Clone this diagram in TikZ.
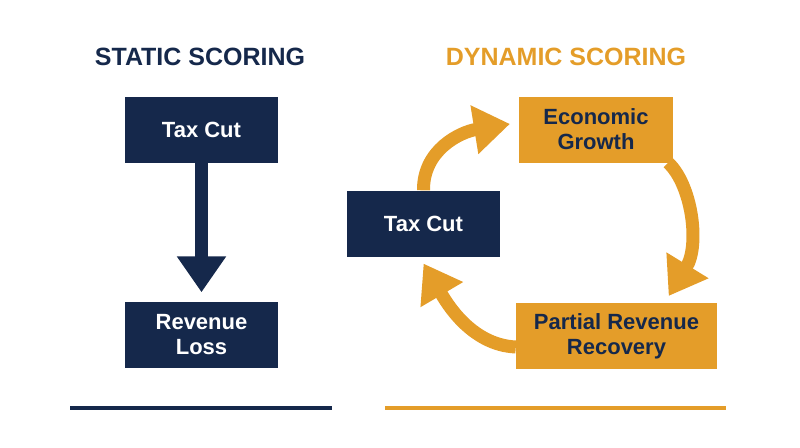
\documentclass[tikz,border=0pt]{standalone}
\usepackage{fontspec}
\setmainfont{Liberation Sans}
\usetikzlibrary{arrows.meta}
\definecolor{navy}{RGB}{21,40,75}
\definecolor{gold}{RGB}{228,157,41}

\begin{document}
\begin{tikzpicture}[
        x=1pt, y=-1pt,
        every node/.style={font=\bfseries\fontsize{22}{25}\selectfont,
                align=center, inner sep=0pt},
        navybox/.style={fill=navy, text=white, minimum width=153pt, minimum height=66pt},
        goldbox/.style={fill=gold, text=navy, minimum height=66pt},
        heading/.style={font=\bfseries\fontsize{25}{29}\selectfont},
        flow/.style={line width=13pt, -{Triangle[width=47pt,length=36pt]}}
    ]
    \useasboundingbox (0,0) rectangle (800,447);

    \node[heading, text=navy] (statictitle) at (200,57) {STATIC SCORING};
    \node[heading, text=gold] (dynamictitle) at (566,57) {DYNAMIC SCORING};

    \node[navybox] (taxL) at (201.5,130) {Tax Cut};
    \node[navybox] (revL) at (201.5,334.5) {Revenue\\Loss};

    \node[navybox] (taxR) at (423.5,223.5) {Tax Cut};
    \node[goldbox, minimum width=154pt] (econ) at (596,129.5) {Economic\\Growth};
    \node[goldbox, minimum width=201pt] (partial) at (616.5,336) {Partial Revenue\\Recovery};

    \draw[flow, navy, shorten >=9pt] (taxL) -- (revL);

    \draw[flow, gold, shorten >=9pt] (taxR.north)
        .. controls (423,150) and (460,132) .. ([yshift=7pt]econ.west);
    \draw[flow, gold, shorten >=8pt] ([xshift=-5pt]econ.south east)
        .. controls (692,185) and (700,245) .. ([xshift=48pt]partial.north);
    \draw[flow, gold, shorten >=8pt] ([yshift=-11pt]partial.west)
        .. controls (470,345) and (445,300) .. ([xshift=-4pt]taxR.south);

    \draw[navy, line width=4pt] (70,408) -- (332,408);
    \draw[gold, line width=4pt] (385,408) -- (726,408);
\end{tikzpicture}
\end{document}
